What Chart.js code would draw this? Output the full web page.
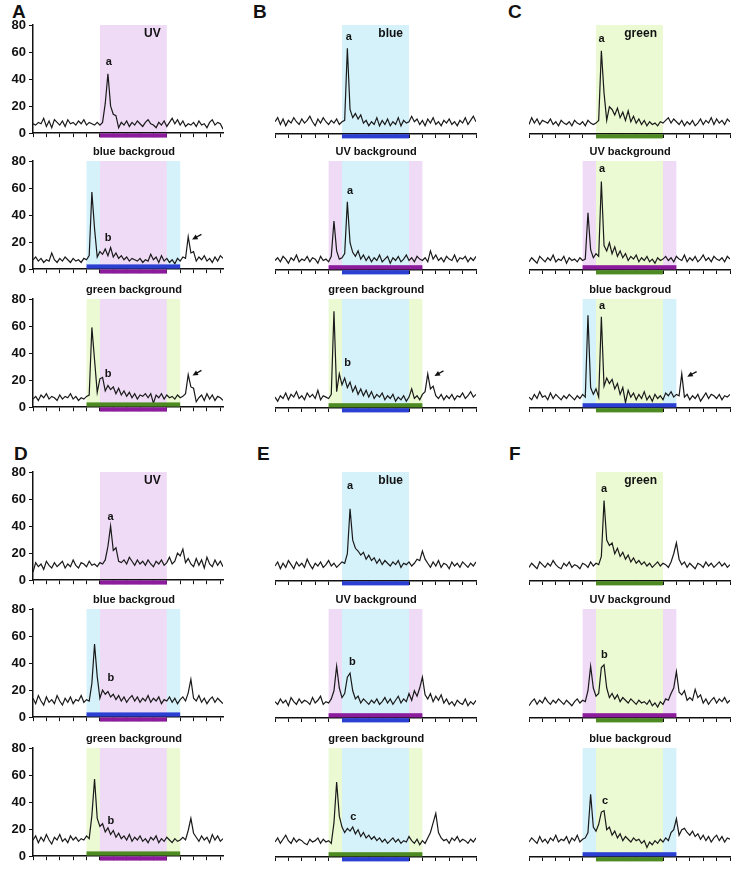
<!DOCTYPE html>
<html>
<head>
<meta charset="utf-8">
<script src="https://cdn.jsdelivr.net/npm/chart.js@4.4.1/dist/chart.umd.min.js"></script>
<style>
  body { margin: 0; background: #fff; width: 750px; height: 872px; position: relative; overflow: hidden; }
  canvas { position: absolute; }
  .letter { position: absolute; font: bold 19px "Liberation Sans", Arial, sans-serif; line-height: 19px; color: #111; }
</style>
</head>
<body>
<div class="letter" style="left:12px;top:2px">A</div>
<div class="letter" style="left:253px;top:2px">B</div>
<div class="letter" style="left:508px;top:2px">C</div>
<div class="letter" style="left:14px;top:444px">D</div>
<div class="letter" style="left:257px;top:444px">E</div>
<div class="letter" style="left:509px;top:444px">F</div>
<script>
// one sample every 0.2 time units, 76 samples (0 .. 15)
const sampleStep = 0.2;
const stimOn = 5, stimOff = 10;
const bgOn = 4, bgOff = 11;
const yTicks = [0, 20, 40, 60, 80];

const traceA1 = [7,6,8,7,11,5,9,4,10,8,6,9,5,10,7,8,6,9,7,10,6,8,7,6,8,
  6,8,22,44,20,14,13,4,8,6,9,5,8,6,9,7,5,8,10,7,6,4,8,6,9,5,8,11,7,10,6,9,5,7,6,8,5,9,6,7,4,8,10,6,8,7,3,5,6,4,6];
const traceA2 = [7,9,6,8,5,7,6,12,7,5,8,6,9,7,5,8,6,7,5,8,7,
  10,57,30,9,13,11,15,10,16,9,12,8,10,7,9,6,8,7,6,8,5,7,6,11,7,9,5,10,6,8,5,7,4,8,6,9,8,24,12,13,6,9,7,10,6,8,5,9,6,10,8,7,6,8,7];
const traceA3 = [6,8,5,9,7,10,6,8,7,5,9,6,8,7,10,6,8,5,7,6,8,
  9,59,35,11,21,22,12,16,13,15,10,14,9,12,8,11,7,10,6,9,8,10,7,10,3,9,7,10,6,9,7,8,6,9,7,8,10,24,15,14,4,7,9,5,10,6,9,5,8,7,5,6,7,5,6];
const traceB1 = [9,12,7,11,6,10,8,12,9,7,11,8,10,13,9,6,11,8,12,9,7,10,8,11,7,
  9,10,63,18,12,15,11,14,8,10,6,9,7,12,6,10,7,11,6,9,7,12,6,10,8,9,13,9,11,7,10,6,11,8,12,7,9,6,10,8,11,7,9,6,10,8,12,7,10,13,9];
const traceB2 = [7,9,6,10,8,5,9,7,11,6,8,7,10,6,9,8,5,10,7,8,6,
  10,36,14,8,9,12,50,20,13,10,14,8,11,7,10,6,9,7,11,6,8,10,5,9,7,10,6,8,11,7,9,6,10,8,7,9,6,14,8,11,7,9,6,10,8,7,11,6,9,8,10,6,9,7,10];
const traceB3 = [8,5,9,7,11,6,10,8,12,7,9,6,11,8,10,7,13,6,9,8,7,
  10,71,12,25,17,22,15,19,12,16,10,14,9,13,8,12,7,10,8,11,6,9,7,10,5,8,6,9,5,8,14,7,9,6,10,12,25,14,16,9,7,10,6,9,7,10,6,9,8,11,7,9,12,8,10];
const traceC1 = [7,12,8,11,7,10,9,8,11,7,9,6,10,8,7,9,6,10,8,7,9,6,10,8,7,
  8,10,61,30,10,20,18,14,19,12,16,10,17,9,13,8,11,7,10,6,9,7,8,6,9,8,10,12,8,11,9,7,10,6,9,7,10,6,8,11,7,10,8,12,7,11,8,10,7,11,9];
const traceC2 = [6,9,7,5,10,8,6,9,7,11,6,8,7,10,5,9,7,8,6,9,7,
  8,42,15,9,12,10,65,18,14,20,12,17,10,14,9,12,7,10,8,11,6,9,7,10,6,8,5,9,7,8,10,7,9,6,10,8,7,11,6,9,7,10,6,8,11,7,9,6,10,8,7,9,6,10,8];
const traceC3 = [8,6,10,7,12,8,9,6,11,7,10,8,6,9,7,10,8,6,9,7,10,
  8,68,15,10,14,8,67,16,22,18,21,14,18,10,15,4,13,8,11,6,10,7,12,6,9,5,10,7,9,6,11,9,12,8,10,9,25,8,10,6,9,7,10,5,8,11,7,10,9,7,10,6,9,8,10];
const traceD1 = [6,13,10,12,8,14,11,9,13,10,12,14,9,12,10,15,11,9,13,12,10,14,11,12,10,
  13,12,15,25,40,22,24,14,13,15,12,17,14,11,15,12,14,11,15,12,10,14,12,15,11,13,17,12,14,20,18,23,13,16,12,10,16,11,15,9,17,12,10,15,11,14,10,13,11,14,12];
const traceD2 = [14,10,16,12,9,15,11,13,10,16,12,9,14,11,15,10,13,12,16,11,13,
  12,25,54,30,14,20,17,19,15,17,13,16,12,15,11,14,16,12,15,11,14,12,16,11,14,12,15,10,13,12,15,11,14,10,13,15,12,18,28,14,12,16,11,14,10,13,15,11,14,12,10,13,12,14,11];
const traceD3 = [12,15,10,14,11,16,12,9,14,12,16,11,13,10,15,12,14,11,13,12,15,
  13,30,57,28,22,24,18,21,16,19,14,17,13,15,12,16,11,14,12,15,11,13,10,14,12,15,10,13,11,14,12,10,13,11,12,14,12,19,28,17,14,11,15,12,14,10,16,12,15,11,13,12,14,11,13];
const traceE1 = [11,14,9,13,10,15,12,9,14,11,13,10,16,12,9,13,11,14,10,12,15,11,13,10,12,
  14,13,20,53,30,24,22,19,21,16,19,15,17,13,16,12,15,13,11,14,12,15,10,13,12,14,11,13,16,15,22,16,13,10,14,11,15,10,13,12,9,14,11,13,10,14,12,10,13,11,14];
const traceE2 = [12,10,14,11,13,9,15,12,10,14,11,13,12,10,15,11,13,16,10,12,11,
  14,20,38,22,15,18,30,33,20,14,16,11,14,12,10,13,11,14,10,12,15,11,14,10,13,16,11,14,12,18,13,20,16,22,30,17,14,18,12,16,13,17,11,14,10,12,9,13,11,10,14,9,12,10,13];
const traceE3 = [11,14,10,13,16,12,10,14,11,13,12,10,9,13,11,12,14,10,13,11,12,
  10,25,55,30,22,18,21,19,22,17,20,15,18,14,16,13,15,12,14,11,13,10,12,14,11,13,10,12,11,15,12,10,13,9,12,10,14,18,25,32,18,14,12,13,10,14,12,15,11,13,12,10,13,11,14];
const traceF1 = [10,13,11,9,14,12,10,13,11,15,12,10,9,13,11,14,10,12,11,9,13,12,10,14,11,
  13,12,18,59,30,26,28,20,24,18,21,16,19,14,17,13,15,12,14,11,13,10,12,14,11,13,12,10,14,20,28,16,12,14,10,13,11,9,13,12,10,14,11,13,10,12,14,11,13,10,12];
const traceF2 = [9,12,14,10,13,11,15,12,10,13,11,14,12,10,13,11,9,12,14,11,13,
  12,20,38,22,16,18,37,39,22,15,18,14,17,12,15,13,11,14,12,10,13,11,12,10,13,9,11,8,12,10,14,13,18,22,34,19,17,20,13,15,13,21,15,17,11,14,10,13,15,11,14,12,15,11,13];
const traceF3 = [11,14,12,10,15,11,13,10,14,12,16,11,13,12,15,10,14,12,16,11,13,
  14,18,46,22,19,24,33,34,20,22,16,19,14,17,12,15,13,11,14,12,13,10,12,7,11,9,12,10,13,11,14,12,18,20,28,16,20,21,18,16,19,15,17,13,16,12,15,11,14,16,12,15,11,14,13];

const fontFamily = '"Liberation Sans", Arial, sans-serif';
const shadeColors = { uv: '#efdbf6', blue: '#d5f2fb', green: '#ecfad4' };
const barColors = { uv: '#8c1c9c', blue: '#2b40d2', green: '#4d8a22' };

const columns = [
  { left: 33, width: 190, xmax: 14.2, yLabels: true },
  { left: 275, width: 201, xmax: 15, yLabels: false },
  { left: 529, width: 201, xmax: 15, yLabels: false }
];
const rowTops = [25, 161, 299, 472, 609, 748];
const plotH = 109, padTop = 20, padRight = 6, xAxisH = 10, yAxisW = 33;

const panels = [
  { col: 0, row: 0, trace: traceA1, stim: 'uv', tag: 'UV', mark: ['a', 5.67, 52.6] },
  { col: 0, row: 1, trace: traceA2, stim: 'uv', bg: 'blue', title: 'blue backgroud', mark: ['b', 5.62, 23], arrow: [12.59, 25.7, 11.89, 22] },
  { col: 0, row: 2, trace: traceA3, stim: 'uv', bg: 'green', title: 'green background', mark: ['b', 5.62, 24.7], arrow: [12.59, 27.2, 11.92, 23.5] },
  { col: 1, row: 0, trace: traceB1, stim: 'blue', tag: 'blue', mark: ['a', 5.5, 71] },
  { col: 1, row: 1, trace: traceB2, stim: 'blue', bg: 'uv', title: 'UV background', mark: ['a', 5.6, 58] },
  { col: 1, row: 2, trace: traceB3, stim: 'blue', bg: 'green', title: 'green background', mark: ['b', 5.42, 33], arrow: [12.57, 27.2, 11.9, 23.5] },
  { col: 2, row: 0, trace: traceC1, stim: 'green', tag: 'green', mark: ['a', 5.42, 70] },
  { col: 2, row: 1, trace: traceC2, stim: 'green', bg: 'uv', title: 'UV background', mark: ['a', 5.45, 74] },
  { col: 2, row: 2, trace: traceC3, stim: 'green', bg: 'blue', title: 'blue backgroud', mark: ['a', 5.45, 75], arrow: [12.51, 26.7, 11.81, 23] },
  { col: 0, row: 3, trace: traceD1, stim: 'uv', tag: 'UV', mark: ['a', 5.8, 46.5] },
  { col: 0, row: 4, trace: traceD2, stim: 'uv', bg: 'blue', title: 'blue backgroud', mark: ['b', 5.82, 29] },
  { col: 0, row: 5, trace: traceD3, stim: 'uv', bg: 'green', title: 'green background', mark: ['b', 5.82, 25.7] },
  { col: 1, row: 3, trace: traceE1, stim: 'blue', tag: 'blue', mark: ['a', 5.6, 70] },
  { col: 1, row: 4, trace: traceE2, stim: 'blue', bg: 'uv', title: 'UV background', mark: ['b', 5.77, 41] },
  { col: 1, row: 5, trace: traceE3, stim: 'blue', bg: 'green', title: 'green background', mark: ['c', 5.85, 29.6] },
  { col: 2, row: 3, trace: traceF1, stim: 'green', tag: 'green', mark: ['a', 5.6, 67.6] },
  { col: 2, row: 4, trace: traceF2, stim: 'green', bg: 'uv', title: 'UV background', mark: ['b', 5.62, 46] },
  { col: 2, row: 5, trace: traceF3, stim: 'green', bg: 'blue', title: 'blue backgroud', mark: ['c', 5.67, 41] }
];

// shading, light bars under the axis, labels and arrows
function decor(p) {
  return {
    id: 'decor',
    beforeDraw(chart) {
      const { ctx, chartArea: a, scales: { x } } = chart;
      ctx.save();
      if (p.bg) {
        const x0 = x.getPixelForValue(bgOn), x1 = x.getPixelForValue(bgOff);
        ctx.fillStyle = shadeColors[p.bg];
        ctx.fillRect(x0, a.top, x1 - x0, a.bottom - a.top);
      }
      const s0 = x.getPixelForValue(stimOn), s1 = x.getPixelForValue(stimOff);
      ctx.fillStyle = shadeColors[p.stim];
      ctx.fillRect(s0, a.top, s1 - s0, a.bottom - a.top);
      ctx.restore();
    },
    afterDraw(chart) {
      const { ctx, chartArea: a, scales: { x, y } } = chart;
      ctx.save();
      const B = y.getPixelForValue(0);
      if (p.bg) {
        const x0 = x.getPixelForValue(bgOn), x1 = x.getPixelForValue(bgOff);
        ctx.fillStyle = barColors[p.bg];
        ctx.fillRect(x0, B - 4.8, x1 - x0, 4.2);
      }
      const s0 = x.getPixelForValue(stimOn), s1 = x.getPixelForValue(stimOff);
      ctx.fillStyle = barColors[p.stim];
      ctx.fillRect(s0, B + 0.2, s1 - s0, 4.2);

      ctx.fillStyle = '#111';
      ctx.textBaseline = 'middle';
      if (p.title) {
        ctx.font = 'bold 11px ' + fontFamily;
        ctx.textAlign = 'center';
        ctx.fillText(p.title, x.getPixelForValue(7.55), a.top - 9);
      }
      if (p.tag) {
        ctx.font = 'bold 12px ' + fontFamily;
        ctx.textAlign = 'right';
        ctx.fillText(p.tag, x.getPixelForValue(9.55), y.getPixelForValue(73.4));
      }
      if (p.mark) {
        ctx.font = 'bold 11px ' + fontFamily;
        ctx.textAlign = 'center';
        ctx.fillText(p.mark[0], x.getPixelForValue(p.mark[1]), y.getPixelForValue(p.mark[2]));
      }
      if (p.arrow) {
        const xa = x.getPixelForValue(p.arrow[0]), ya = y.getPixelForValue(p.arrow[1]);
        const xb = x.getPixelForValue(p.arrow[2]), yb = y.getPixelForValue(p.arrow[3]);
        const ang = Math.atan2(yb - ya, xb - xa);
        ctx.strokeStyle = '#111';
        ctx.lineWidth = 1.3;
        ctx.beginPath();
        ctx.moveTo(xa, ya);
        ctx.lineTo(xb - 3 * Math.cos(ang), yb - 3 * Math.sin(ang));
        ctx.stroke();
        ctx.beginPath();
        ctx.moveTo(xb, yb);
        ctx.lineTo(xb - 5.5 * Math.cos(ang) + 2.6 * Math.sin(ang), yb - 5.5 * Math.sin(ang) - 2.6 * Math.cos(ang));
        ctx.lineTo(xb - 5.5 * Math.cos(ang) - 2.6 * Math.sin(ang), yb - 5.5 * Math.sin(ang) + 2.6 * Math.cos(ang));
        ctx.closePath();
        ctx.fill();
      }
      ctx.restore();
    }
  };
}

function makePanel(p) {
  const col = columns[p.col];
  const yw = col.yLabels ? yAxisW : 0;
  const canvas = document.createElement('canvas');
  canvas.width = yw + col.width + padRight;
  canvas.height = padTop + plotH + xAxisH;
  canvas.style.left = (col.left - yw) + 'px';
  canvas.style.top = (rowTops[p.row] - padTop) + 'px';
  document.body.appendChild(canvas);

  new Chart(canvas.getContext('2d'), {
    type: 'line',
    data: {
      datasets: [{
        data: p.trace.map((v, i) => ({ x: i * sampleStep, y: v })),
        borderColor: '#1a1a1a',
        borderWidth: 1.2,
        pointRadius: 0,
        tension: 0
      }]
    },
    options: {
      responsive: false,
      animation: false,
      layout: { padding: { top: padTop, right: padRight, left: 0, bottom: 0 } },
      plugins: { legend: { display: false }, tooltip: { enabled: false } },
      scales: {
        x: {
          type: 'linear', min: 0, max: col.xmax,
          ticks: { display: false, stepSize: 1, includeBounds: false },
          grid: { drawOnChartArea: false, tickLength: 4, color: '#111', lineWidth: 1 },
          border: { color: '#111', width: 1.5 },
          afterFit: s => { s.height = xAxisH; }
        },
        y: {
          display: col.yLabels, min: 0, max: 80,
          afterBuildTicks: s => { s.ticks = yTicks.map(v => ({ value: v })); },
          ticks: { color: '#111', padding: 3, font: { family: fontFamily, size: 13, weight: 'bold' } },
          grid: { drawOnChartArea: false, tickLength: 4, color: '#111', lineWidth: 1 },
          border: { color: '#111', width: 1.5 },
          afterFit: s => { s.width = yw; }
        }
      }
    },
    plugins: [decor(p)]
  });
}

panels.forEach(makePanel);
</script>
</body>
</html>
